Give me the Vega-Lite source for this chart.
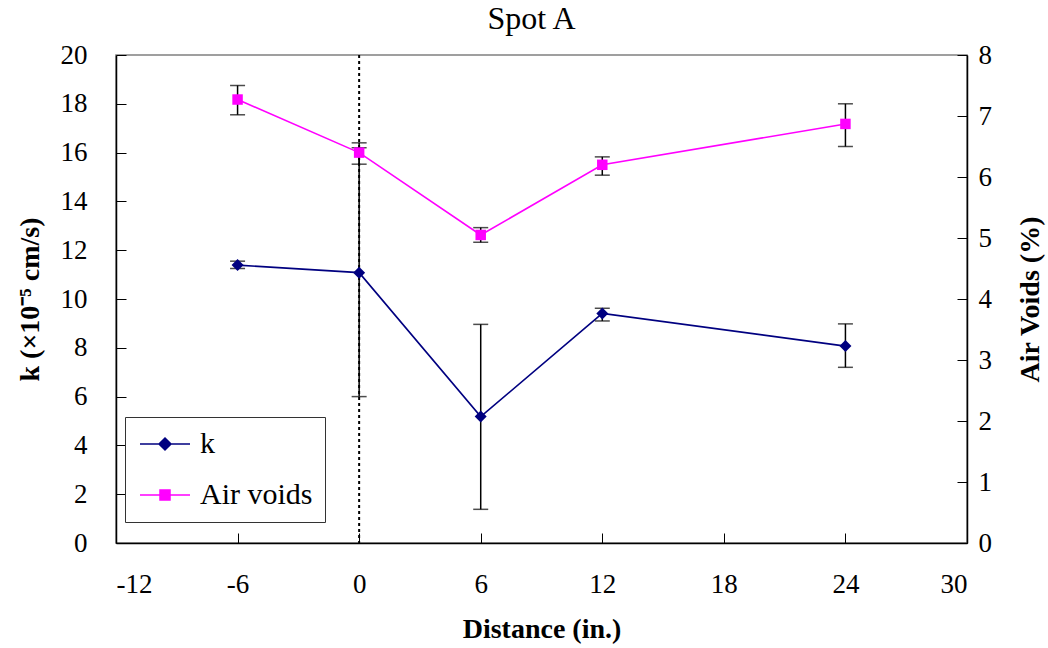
{
  "$schema": "https://vega.github.io/schema/vega-lite/v6.json",
  "autosize": "none",
  "width": 851,
  "height": 488,
  "padding": {"left": 116, "top": 55, "right": 81, "bottom": 105},
  "background": "white",
  "config": {
    "font": "Liberation Serif, serif",
    "view": {"stroke": "#808080", "strokeWidth": 1.5},
    "axis": {
      "grid": false,
      "domainColor": "black",
      "domainWidth": 1.5,
      "tickColor": "black",
      "tickWidth": 1,
      "tickSize": -10,
      "labelFont": "Liberation Serif, serif",
      "labelFontSize": 27,
      "labelColor": "black",
      "titleFont": "Liberation Serif, serif",
      "titleFontSize": 28,
      "titleFontWeight": "bold",
      "titleColor": "black"
    }
  },
  "title": {
    "text": "Spot A",
    "font": "Liberation Serif, serif",
    "fontSize": 32,
    "fontWeight": "normal",
    "color": "black",
    "frame": "group",
    "offset": 5,
    "dx": -10
  },
  "datasets": {
    "k": [
      {"d": -6, "series": "k", "v": 11.39, "lo": 11.25, "hi": 11.55},
      {"d": 0, "series": "k", "v": 11.08, "lo": 6.0, "hi": 16.2},
      {"d": 6, "series": "k", "v": 5.18, "lo": 1.38, "hi": 8.96},
      {"d": 12, "series": "k", "v": 9.41, "lo": 9.1, "hi": 9.62},
      {"d": 24, "series": "k", "v": 8.07, "lo": 7.2, "hi": 8.98}
    ],
    "air": [
      {"d": -6, "series": "Air voids", "v": 7.27, "lo": 7.02, "hi": 7.5},
      {"d": 0, "series": "Air voids", "v": 6.4, "lo": 6.21, "hi": 6.56},
      {"d": 6, "series": "Air voids", "v": 5.05, "lo": 4.93, "hi": 5.17},
      {"d": 12, "series": "Air voids", "v": 6.2, "lo": 6.03, "hi": 6.33},
      {"d": 24, "series": "Air voids", "v": 6.87, "lo": 6.5, "hi": 7.2}
    ],
    "zero": [{"d": 0}]
  },
  "encoding": {
    "x": {
      "field": "d",
      "type": "quantitative",
      "scale": {"domain": [-12, 30], "nice": false, "zero": false},
      "axis": {
        "values": [-12, -6, 0, 6, 12, 18, 24, 30],
        "labelExpr": "'' + datum.value",
        "title": "Distance (in.)",
        "labelPadding": 38,
        "titlePadding": 18
      }
    }
  },
  "layer": [
    {
      "data": {"name": "zero"},
      "mark": {"type": "rule", "color": "black", "strokeWidth": 2, "strokeDash": [3, 3]},
      "encoding": {}
    },
    {
      "data": {"name": "k"},
      "encoding": {
        "y": {
          "field": "v",
          "type": "quantitative",
          "scale": {"domain": [0, 20], "nice": false},
          "axis": {
            "orient": "left",
            "values": [0, 2, 4, 6, 8, 10, 12, 14, 16, 18, 20],
            "title": "k (×10⁻⁵ cm/s)",
            "labelPadding": 39,
            "titlePadding": 16
          }
        }
      },
      "layer": [
        {
          "mark": {"type": "line", "strokeWidth": 1.6},
          "encoding": {
            "color": {
              "field": "series",
              "type": "nominal",
              "scale": {"domain": ["k", "Air voids"], "range": ["#000080", "#FF00FF"]},
              "legend": {
                "title": null,
                "orient": "none",
                "legendX": 9,
                "legendY": 362,
                "direction": "vertical",
                "strokeColor": "#333333",
                "fillColor": "white",
                "padding": 12,
                "labelFont": "Liberation Serif, serif",
                "labelFontSize": 30,
                "labelColor": "black",
                "labelOffset": 20,
                "symbolOffset": 13,
                "rowPadding": 21,
                "symbolSize": 400,
                "symbolStrokeWidth": 1.5,
                "encode": {
                  "symbols": {
                    "update": {
                      "shape": {"signal": "datum.value === 'k' ? 'M-2.5,0H2.5M0,-0.6L0.6,0L0,0.6L-0.6,0Z' : 'M-2.5,0H2.5M-0.5,-0.5H0.5V0.5H-0.5Z'"},
                      "fill": {"signal": "datum.value === 'k' ? '#000080' : '#FF00FF'"},
                      "stroke": {"signal": "datum.value === 'k' ? '#000080' : '#FF00FF'"},
                      "fillOpacity": {"value": 1},
                      "strokeWidth": {"value": 1.5}
                    }
                  }
                }
              }
            }
          }
        },
        {
          "mark": {"type": "rule", "color": "black", "strokeWidth": 1.5},
          "encoding": {"y": {"field": "lo", "type": "quantitative"}, "y2": {"field": "hi"}}
        },
        {
          "mark": {"type": "tick", "orient": "horizontal", "color": "black", "size": 15, "thickness": 1.5},
          "encoding": {"y": {"field": "lo", "type": "quantitative"}}
        },
        {
          "mark": {"type": "tick", "orient": "horizontal", "color": "black", "size": 15, "thickness": 1.5},
          "encoding": {"y": {"field": "hi", "type": "quantitative"}}
        },
        {
          "mark": {"type": "point", "shape": "diamond", "filled": true, "size": 144, "color": "#000080", "opacity": 1},
          "encoding": {}
        }
      ]
    },
    {
      "data": {"name": "air"},
      "encoding": {
        "y": {
          "field": "v",
          "type": "quantitative",
          "scale": {"domain": [0, 8], "nice": false},
          "axis": {
            "orient": "right",
            "values": [0, 1, 2, 3, 4, 5, 6, 7, 8],
            "title": "Air Voids (%)",
            "titleAngle": -90,
            "titleBaseline": "top",
            "labelPadding": 21,
            "titlePadding": 25
          }
        }
      },
      "layer": [
        {
          "mark": {"type": "line", "strokeWidth": 1.6},
          "encoding": {"color": {"field": "series", "type": "nominal"}}
        },
        {
          "mark": {"type": "rule", "color": "black", "strokeWidth": 1.5},
          "encoding": {"y": {"field": "lo", "type": "quantitative"}, "y2": {"field": "hi"}}
        },
        {
          "mark": {"type": "tick", "orient": "horizontal", "color": "black", "size": 15, "thickness": 1.5},
          "encoding": {"y": {"field": "lo", "type": "quantitative"}}
        },
        {
          "mark": {"type": "tick", "orient": "horizontal", "color": "black", "size": 15, "thickness": 1.5},
          "encoding": {"y": {"field": "hi", "type": "quantitative"}}
        },
        {
          "mark": {"type": "square", "filled": true, "size": 110, "color": "#FF00FF", "opacity": 1},
          "encoding": {}
        }
      ]
    }
  ],
  "resolve": {"scale": {"y": "independent"}, "axis": {"y": "independent"}}
}
